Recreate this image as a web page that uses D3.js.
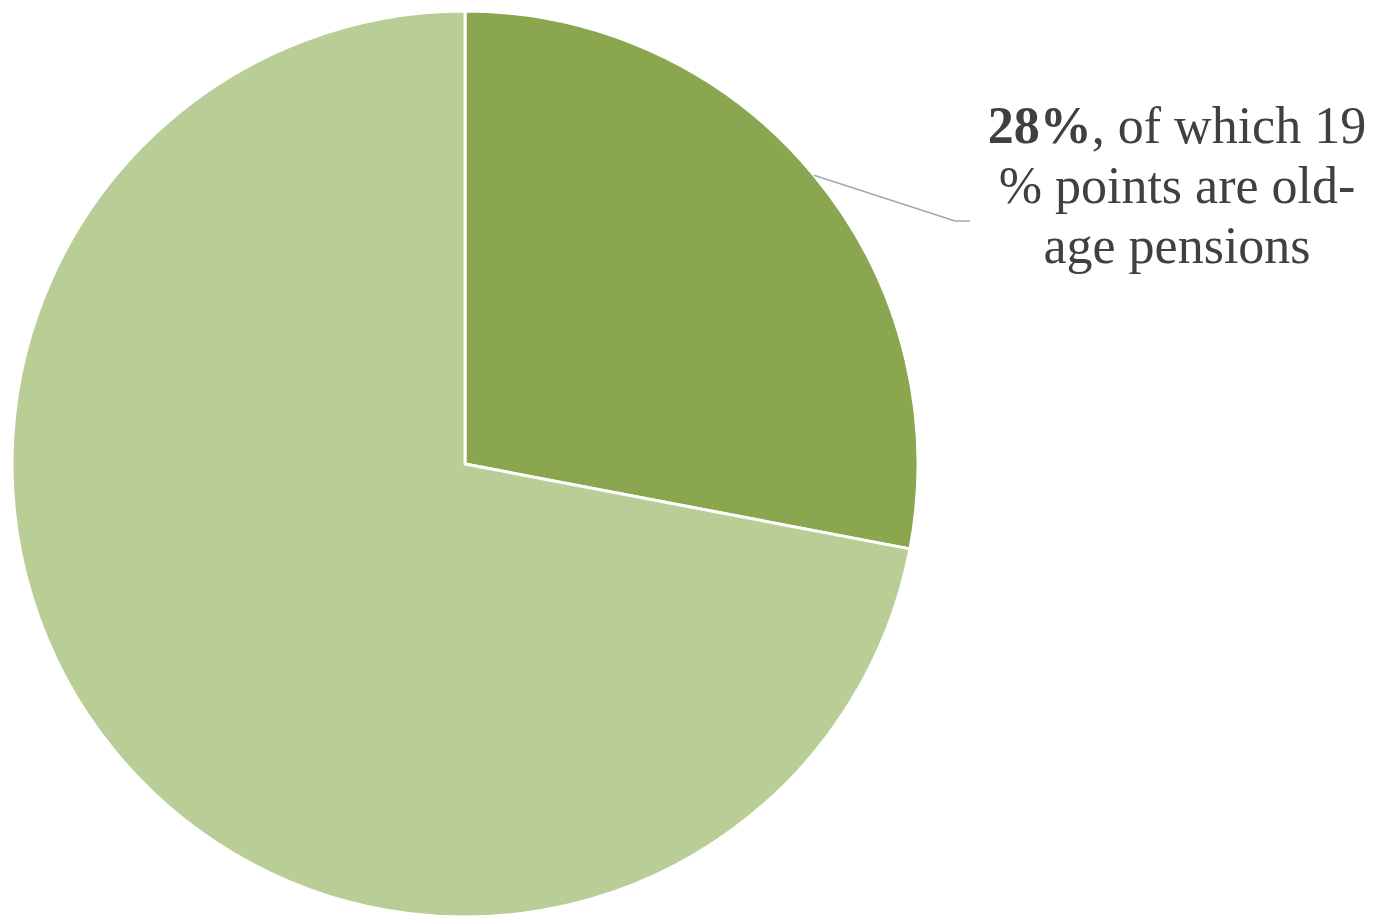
<!DOCTYPE html>
<html>
<head>
<meta charset="utf-8">
<script src="https://cdn.jsdelivr.net/npm/d3@7"></script>
<style>
  html, body { margin: 0; padding: 0; background: #fff; }
</style>
</head>
<body>
<svg id="chart" width="1375" height="916"></svg>
<script>
// slice shares, in percent, clockwise from 12 o'clock
const categories = ["Share incl. old-age pensions", "Other"];
const values = [28, 72];
const colors = ["#8aa64f", "#b9ce96"];
const labelBold = "28%";
const labelLines = [", of which 19", "% points are old-", "age pensions"];

const svg = d3.select("#chart");
const cx = 465, cy = 464, radius = 453;

const pie = d3.pie().value(d => d).sort(null);
const arc = d3.arc().innerRadius(0).outerRadius(radius);
const arcs = pie(values);

const g = svg.append("g").attr("transform", `translate(${cx},${cy})`);

g.selectAll("path")
    .data(arcs)
    .enter().append("path")
    .attr("d", arc)
    .attr("fill", (d, i) => colors[i])
    .attr("stroke", "#fff")
    .attr("stroke-width", 3)
    .attr("stroke-linejoin", "round");

// leader line starts on the edge of the dark slice, at its middle angle
const edge = d3.arc().innerRadius(radius).outerRadius(radius).centroid(arcs[0]);
const lx = 1177, ly = 143;
svg.append("polyline")
    .attr("points", [[cx + edge[0], cy + edge[1]], [lx - 222, ly + 78], [lx - 207, ly + 78]].map(p => p.join(",")).join(" "))
    .attr("fill", "none")
    .attr("stroke", "#a6a6a6")
    .attr("stroke-width", 1.5);

const text = svg.append("text")
    .attr("text-anchor", "middle")
    .attr("font-family", "'Liberation Serif', 'Times New Roman', serif")
    .attr("font-size", 52)
    .attr("fill", "#404040");

const first = text.append("tspan").attr("x", lx).attr("y", ly);
first.append("tspan").attr("font-weight", "bold").text(labelBold);
first.append("tspan").text(labelLines[0]);
labelLines.slice(1).forEach((t, i) => {
    text.append("tspan").attr("x", lx).attr("y", ly + (i + 1) * 60).text(t);
});
</script>
</body>
</html>
